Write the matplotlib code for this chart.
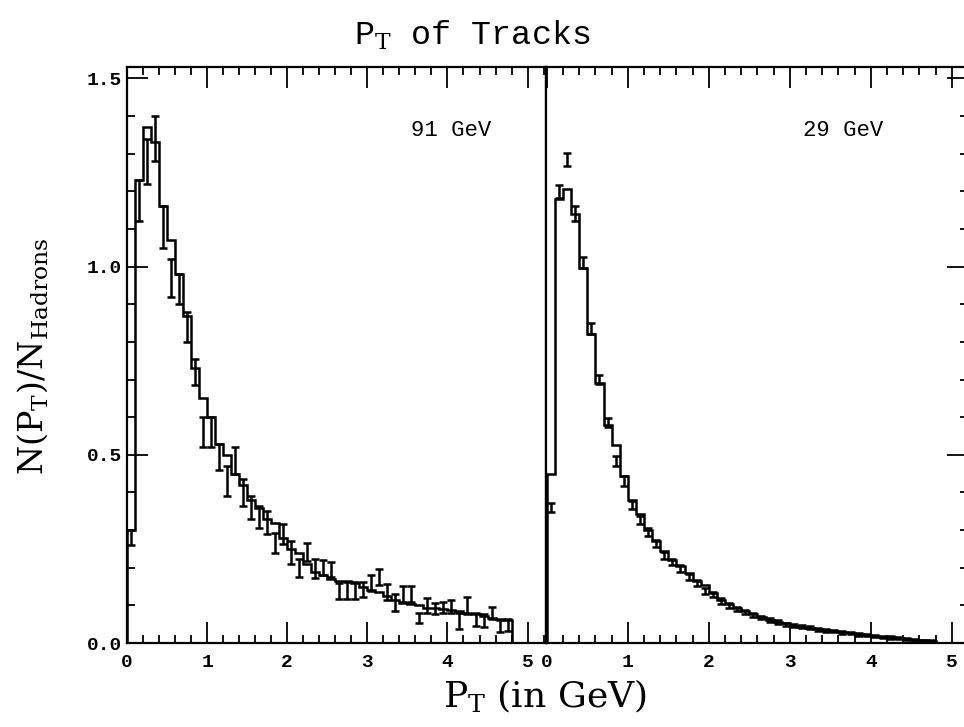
import numpy as np
import matplotlib
matplotlib.use("Agg")
import matplotlib.pyplot as plt
from matplotlib.ticker import MultipleLocator

# bin edges, 0.1 GeV wide, 0 - 4.8 GeV
edges = np.round(np.arange(0, 4.81, 0.1), 2)
centers = edges[:-1] + 0.05

# 91 GeV : model histogram and measured points
hist_91 = [0.30, 1.23, 1.37, 1.33, 1.16, 1.07, 0.98, 0.87, 0.73, 0.65,
           0.60, 0.53, 0.50, 0.45, 0.42, 0.38, 0.36, 0.33, 0.32, 0.28,
           0.25, 0.24, 0.21, 0.19, 0.18, 0.17, 0.165, 0.165, 0.16, 0.15,
           0.14, 0.135, 0.125, 0.115, 0.107, 0.105, 0.10, 0.093, 0.092, 0.09,
           0.088, 0.085, 0.08, 0.076, 0.072, 0.066, 0.064, 0.062]
data_91 = [0.28, 1.175, 1.28, 1.34, 1.105, 0.97, 0.94, 0.84, 0.72, 0.56,
           0.56, 0.495, 0.43, 0.485, 0.40, 0.36, 0.335, 0.32, 0.265, 0.29,
           0.24, 0.20, 0.243, 0.198, 0.20, 0.195, 0.138, 0.14, 0.14, 0.143,
           0.16, 0.175, 0.135, 0.107, 0.13, 0.13, 0.067, 0.10, 0.092, 0.095,
           0.097, 0.058, 0.10, 0.063, 0.06, 0.08, 0.045, 0.048]
err_91 = [0.02, 0.055, 0.06, 0.06, 0.055, 0.05, 0.04, 0.04, 0.035, 0.04,
          0.04, 0.035, 0.04, 0.035, 0.035, 0.03, 0.03, 0.03, 0.027, 0.027,
          0.03, 0.024, 0.024, 0.025, 0.02, 0.02, 0.022, 0.022, 0.022, 0.02,
          0.022, 0.022, 0.022, 0.022, 0.022, 0.022, 0.013, 0.02, 0.015, 0.015,
          0.017, 0.021, 0.022, 0.018, 0.017, 0.017, 0.016, 0.016]

# 29 GeV
hist_29 = [0.45, 1.18, 1.205, 1.14, 0.995, 0.82, 0.69, 0.58, 0.525, 0.445,
           0.38, 0.343, 0.30, 0.27, 0.245, 0.22, 0.205, 0.185, 0.165, 0.155,
           0.133, 0.115, 0.105, 0.092, 0.085, 0.077, 0.068, 0.062, 0.057, 0.053,
           0.045, 0.043, 0.041, 0.038, 0.035, 0.032, 0.029, 0.027, 0.024, 0.022,
           0.019, 0.017, 0.015, 0.013, 0.011, 0.009, 0.007, 0.006]
data_29 = [0.36, 1.20, 1.285, 1.14, 1.01, 0.835, 0.70, 0.585, 0.484, 0.43,
           0.367, 0.327, 0.295, 0.265, 0.232, 0.215, 0.198, 0.175, 0.16, 0.138,
           0.128, 0.112, 0.10, 0.09, 0.082, 0.075, 0.068, 0.061, 0.056, 0.05,
           0.047, 0.043, 0.04, 0.037, 0.034, 0.031, 0.028, 0.026, 0.023, 0.021,
           0.019, 0.017, 0.015, 0.013, 0.011, 0.009, 0.007, 0.006]
err_29 = [0.012, 0.017, 0.017, 0.02, 0.015, 0.015, 0.013, 0.012, 0.013, 0.013,
          0.011, 0.011, 0.01, 0.01, 0.009, 0.009, 0.008, 0.008, 0.008, 0.007,
          0.007, 0.007, 0.006, 0.006, 0.006, 0.005, 0.005, 0.005, 0.005, 0.004,
          0.004, 0.004, 0.004, 0.004, 0.004, 0.003, 0.003, 0.003, 0.003, 0.003,
          0.003, 0.003, 0.003, 0.003, 0.002, 0.002, 0.002, 0.002]

mono = "Liberation Mono"
plt.rcParams["mathtext.fontset"] = "dejavuserif"

fig = plt.figure(figsize=(9.64, 7.27), dpi=100)
ax1 = fig.add_axes([0.1317, 0.1155, 0.4347, 0.7923])
# right frame runs just past the page edge
ax2 = fig.add_axes([0.5664, 0.1155, 0.4378, 0.7923])


def draw_panel(ax, hist, data, err, energy, xlim, lab_x):
    ax.stairs(hist, edges, color="black", linewidth=1.8)
    ax.errorbar(centers, data, yerr=err, fmt="none", ecolor="black",
                elinewidth=1.8, capsize=2.8, capthick=1.8)
    ax.set_xlim(*xlim)
    ax.set_ylim(0, 1.53)
    ax.xaxis.set_major_locator(MultipleLocator(1))
    ax.xaxis.set_minor_locator(MultipleLocator(0.2))
    ax.yaxis.set_major_locator(MultipleLocator(0.5))
    ax.yaxis.set_minor_locator(MultipleLocator(0.1))
    ax.tick_params(which="both", direction="in", top=True, bottom=True,
                   width=1.3, colors="black")
    ax.tick_params(which="major", length=15)
    ax.tick_params(which="minor", length=5.5)
    ax.tick_params(axis="x", pad=8)
    for s in ax.spines.values():
        s.set_linewidth(1.6)
    for lab in ax.get_xticklabels():
        lab.set_fontfamily(mono)
        lab.set_fontweight("bold")
        lab.set_fontsize(14)
    ax.text(lab_x, 0.89, energy, transform=ax.transAxes, ha="right",
            va="center", fontsize=16, family=mono)


draw_panel(ax1, hist_91, data_91, err_91, "91 GeV", (0, 5.23), 0.87)
draw_panel(ax2, hist_29, data_29, err_29, "29 GeV", (-0.01, 5.2), 0.80)

ax1.tick_params(axis="y", which="both", left=True, right=False)
ax1.set_yticks([0, 0.5, 1.0, 1.5])
ax1.set_yticklabels(["0.0", "0.5", "1.0", "1.5"])
for lab in ax1.get_yticklabels():
    lab.set_fontfamily(mono)
    lab.set_fontweight("bold")
    lab.set_fontsize(14)
ax2.tick_params(axis="y", which="both", left=False, right=True,
                labelleft=False, labelright=False)

fig.text(0.49, 0.952, r"P$_\mathrm{T}$ of Tracks", ha="center", va="center",
         fontsize=24, family=mono)
fig.text(0.565, 0.042, r"P$_\mathrm{T}$ (in GeV)", ha="center", va="center",
         fontsize=26, family="DejaVu Serif")
fig.text(0.034, 0.51, r"N(P$_\mathrm{T}$)/N$_\mathrm{Hadrons}$", ha="center",
         va="center", rotation=90, fontsize=24, family="DejaVu Serif")

fig.savefig("out.png", dpi=100)
